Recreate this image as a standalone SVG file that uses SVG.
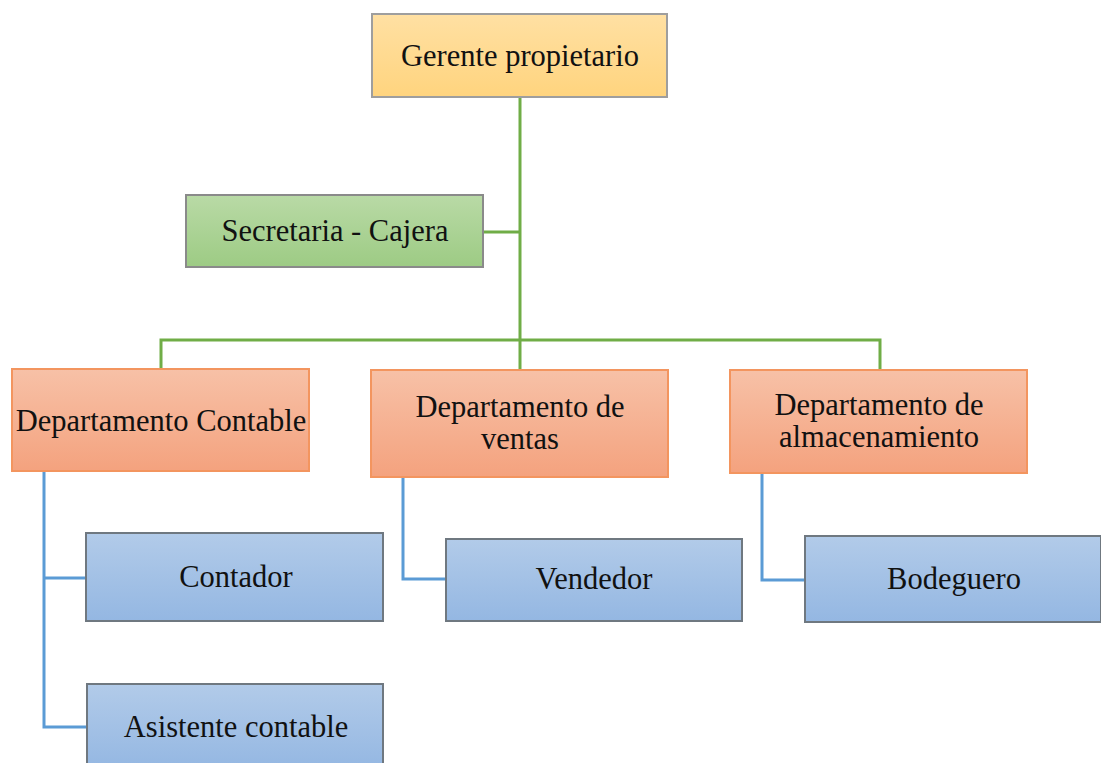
<svg xmlns="http://www.w3.org/2000/svg" width="1101" height="763" viewBox="0 0 1101 763">
<defs>
<linearGradient id="gOr" x1="0" y1="0" x2="0" y2="1"><stop offset="0" stop-color="#FFE0A3"/><stop offset="1" stop-color="#FFD47E"/></linearGradient>
<linearGradient id="gGr" x1="0" y1="0" x2="0" y2="1"><stop offset="0" stop-color="#B9DAA6"/><stop offset="1" stop-color="#9DCB84"/></linearGradient>
<linearGradient id="gSa" x1="0" y1="0" x2="0" y2="1"><stop offset="0" stop-color="#F7C1A7"/><stop offset="1" stop-color="#F4A27E"/></linearGradient>
<linearGradient id="gBl" x1="0" y1="0" x2="0" y2="1"><stop offset="0" stop-color="#B2CBE9"/><stop offset="1" stop-color="#94B7E2"/></linearGradient>
</defs>
<style>
text{font-family:"Liberation Serif","Times New Roman",serif;font-size:30.5px;fill:#111;text-anchor:middle}
.or{fill:url(#gOr);stroke:#9E9E9E;stroke-width:2}
.gr{fill:url(#gGr);stroke:#8A8A8A;stroke-width:2}
.sa{fill:url(#gSa);stroke:#F3955F;stroke-width:2}
.bl{fill:url(#gBl);stroke:#6F7880;stroke-width:2}
.cg{stroke:#70AD47;stroke-width:3;fill:none}
.cb{stroke:#5B9BD5;stroke-width:3;fill:none}
</style>
<rect width="1101" height="763" fill="#fff"/>
<g id="connectors">
<path class="cg" d="M520 98V369M483 232H520M161 369V340H880V370"/>
<path class="cb" d="M44 471V727H87M44 578H86"/>
<path class="cb" d="M403 477V579H446"/>
<path class="cb" d="M762 473V580H805"/>
</g>
<g id="gerente"><rect class="or" x="372" y="14" width="295" height="83"/><text x="520" y="66">Gerente propietario</text></g>
<g id="secretaria"><rect class="gr" x="186" y="195" width="297" height="72"/><text x="335" y="241">Secretaria - Cajera</text></g>
<g id="dep-contable"><rect class="sa" x="12" y="369" width="297" height="102"/><text x="161" y="431">Departamento Contable</text></g>
<g id="dep-ventas"><rect class="sa" x="371" y="370" width="297" height="107"/><text x="520" y="417">Departamento de</text><text x="520" y="449">ventas</text></g>
<g id="dep-almacen"><rect class="sa" x="730" y="370" width="297" height="103"/><text x="879" y="415">Departamento de</text><text x="879" y="447">almacenamiento</text></g>
<g id="contador"><rect class="bl" x="86" y="533" width="297" height="88"/><text x="236" y="587">Contador</text></g>
<g id="asistente"><rect class="bl" x="87" y="684" width="296" height="85"/><text x="236" y="737">Asistente contable</text></g>
<g id="vendedor"><rect class="bl" x="446" y="539" width="296" height="82"/><text x="594" y="589">Vendedor</text></g>
<g id="bodeguero"><rect class="bl" x="805" y="536" width="296" height="86"/><text x="954" y="589">Bodeguero</text></g>
</svg>
